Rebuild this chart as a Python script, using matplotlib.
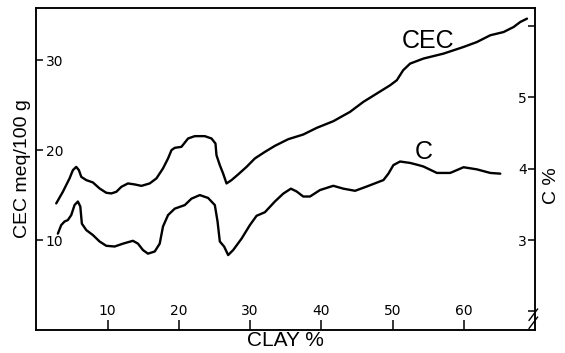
import numpy as np
import matplotlib.pyplot as plt

plt.rcParams['font.family'] = ['Liberation Sans', 'DejaVu Sans']

# CEC (meq/100 g) against clay %
cec_clay = [2.77, 3.70, 4.64, 5.11, 5.58, 5.95, 6.29, 6.99, 7.92, 8.86, 9.80,
            10.51, 11.21, 11.91, 12.84, 13.78, 14.73, 15.89, 16.84, 17.76,
            18.47, 18.95, 19.41, 20.35, 21.28, 22.22, 23.63, 24.57, 25.13,
            25.27, 25.74, 26.20, 26.68, 27.38, 28.31, 29.49, 30.66, 32.07,
            33.47, 35.34, 37.45, 39.34, 41.67, 44.02, 45.89, 47.78, 49.65,
            50.59, 51.48, 52.46, 54.33, 57.15, 59.96, 61.84, 63.71, 65.58,
            66.99, 67.93, 68.87]
cec_vals = [14.08, 15.37, 16.86, 17.78, 18.14, 17.78, 17.03, 16.67, 16.41,
            15.74, 15.26, 15.19, 15.37, 15.92, 16.30, 16.19, 16.03, 16.30,
            16.86, 17.97, 19.08, 20.00, 20.26, 20.37, 21.30, 21.56, 21.56,
            21.30, 20.74, 19.44, 18.33, 17.41, 16.30, 16.67, 17.30, 18.14,
            19.08, 19.81, 20.48, 21.22, 21.74, 22.48, 23.22, 24.26, 25.37,
            26.30, 27.22, 27.78, 28.89, 29.63, 30.19, 30.74, 31.48, 32.03,
            32.78, 33.14, 33.70, 34.26, 34.63]

# organic carbon (C %) against clay %
c_clay = [3.00, 3.47, 3.94, 4.40, 4.88, 5.34, 5.81, 6.15, 6.37, 6.99, 7.92,
          8.86, 9.80, 10.97, 12.14, 13.54, 14.25, 14.95, 15.65, 16.60, 17.30,
          17.76, 18.47, 19.41, 20.82, 21.76, 22.93, 24.09, 25.04, 25.42,
          25.74, 26.34, 26.91, 27.61, 28.79, 29.96, 30.90, 32.07, 33.47,
          34.64, 35.72, 36.53, 37.45, 38.40, 39.80, 41.67, 43.08, 44.73,
          46.37, 48.71, 49.41, 50.11, 51.05, 52.46, 53.63, 54.33, 56.22,
          58.09, 59.96, 61.84, 63.71, 65.12]
c_vals = [3.09, 3.21, 3.26, 3.28, 3.35, 3.49, 3.54, 3.47, 3.23, 3.14, 3.07,
          2.98, 2.92, 2.91, 2.95, 2.99, 2.95, 2.86, 2.81, 2.84, 2.95, 3.19,
          3.35, 3.44, 3.49, 3.58, 3.63, 3.59, 3.49, 3.26, 2.98, 2.91, 2.79,
          2.86, 3.02, 3.21, 3.34, 3.39, 3.54, 3.65, 3.72, 3.68, 3.61, 3.61,
          3.70, 3.76, 3.72, 3.69, 3.75, 3.84, 3.93, 4.05, 4.10, 4.08, 4.05,
          4.03, 3.94, 3.94, 4.02, 3.99, 3.94, 3.93]

x_ticks = [10, 20, 30, 40, 50, 60]
cec_ticks = [10, 20, 30]
c_ticks = [2, 3, 4, 5, 6]
c_labels = ['', '3', '4', '5', '']

fig = plt.figure(figsize=(5.65, 3.53), dpi=100)
ax = fig.add_axes([0.0646, 0.0652, 0.8824, 0.9118])
ax2 = ax.twinx()

line_kw = dict(color='black', lw=1.7, solid_joinstyle='round',
               solid_capstyle='round')
ax.plot(cec_clay, cec_vals, **line_kw)
ax2.plot(c_clay, c_vals, **line_kw)

ax.set_xlim(0, 70)
ax.set_ylim(0, 35.8)
# 3 % C sits level with 10 meq, one C unit = 7.94 meq
ax2.set_ylim(3 - 10 / 7.944, 3 + 25.8 / 7.944)

for a in (ax, ax2):
    for s in a.spines.values():
        s.set_linewidth(1.1)

ax.set_xticks(x_ticks)
ax.set_yticks(cec_ticks)
ax2.set_yticks(c_ticks)
ax2.set_yticklabels(c_labels)

ax.tick_params(axis='x', direction='in', length=7.5, width=1.1, pad=-8.5,
               labelsize=10)
ax.tick_params(axis='y', direction='in', length=5, width=1.1, pad=-6.5,
               labelsize=10)
ax2.tick_params(axis='y', direction='in', length=5, width=1.1, pad=-6,
                labelsize=10)
for t in ax.get_xticklabels():
    t.set_verticalalignment('bottom')
    t.set_family('DejaVu Sans')
for t in ax.get_yticklabels():
    t.set_horizontalalignment('left')
    t.set_family('DejaVu Sans')
for t in ax2.get_yticklabels():
    t.set_horizontalalignment('right')
    t.set_family('DejaVu Sans')

ax.set_xlabel('CLAY %', fontsize=15, labelpad=1)
ax.set_ylabel('CEC meq/100 g', fontsize=14, labelpad=4)
ax2.set_ylabel('C %', fontsize=14, rotation=90)
ax2.yaxis.set_label_coords(1.015, 0.45)

ax.text(51.3, 31.4, 'CEC', fontsize=18)
ax.text(53.1, 19.0, 'C', fontsize=18)

# axis break marks at the lower right corner
for dy in (0.0, 0.025):
    ax.plot([0.988, 1.005], [0.005 + dy, 0.04 + dy], transform=ax.transAxes,
            color='black', lw=1.0, clip_on=False)

fig.savefig('out.png', dpi=100)
